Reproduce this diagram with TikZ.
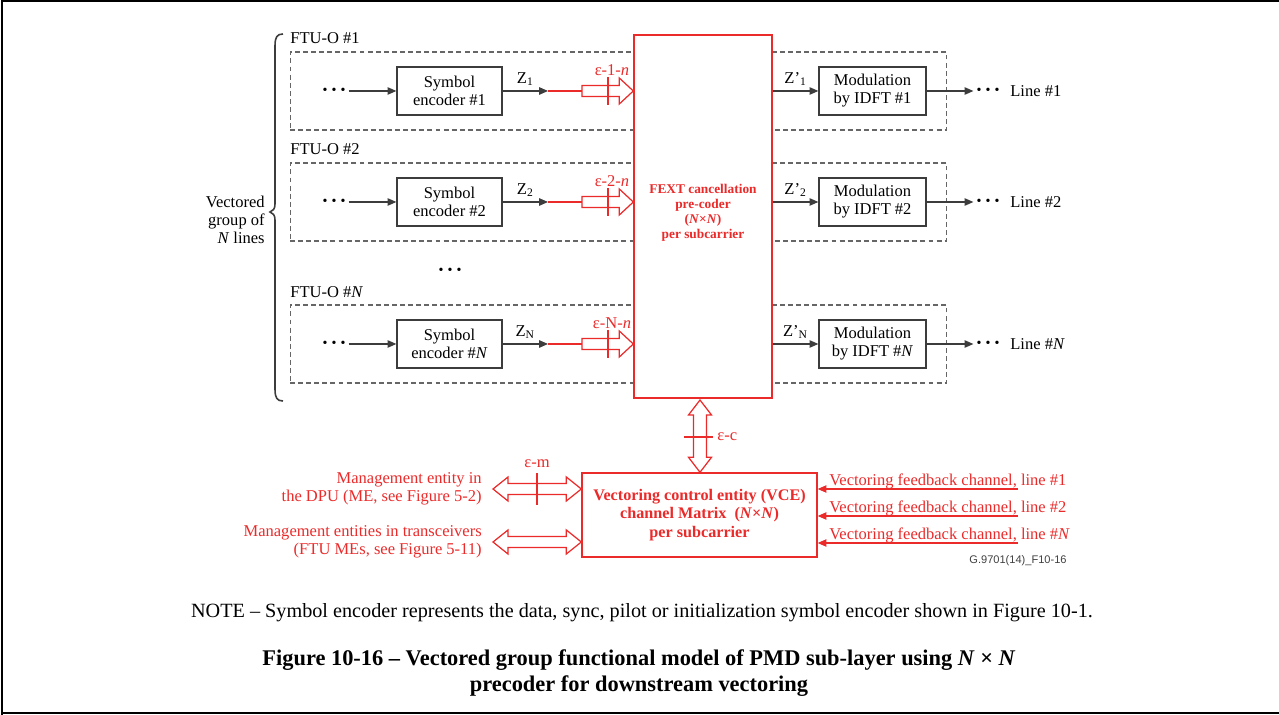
\documentclass[tikz,border=0pt]{standalone}
\usepackage{fontspec}
\setmainfont{Liberation Serif}
\newfontfamily\labelsans{Liberation Sans}
\usetikzlibrary{arrows.meta,calc}
\definecolor{vred}{RGB}{235,42,42}
\definecolor{dgray}{RGB}{60,60,60}
% hollow single arrow: shaft start #1, tip x from #2
\newcommand{\hArrowR}[2]{%
 \path[hollow] let \p1=(#1), \p2=(#2) in
 (\x1,\y1+0.11cm) -- (\x2-0.28cm,\y1+0.11cm) -- (\x2-0.28cm,\y1+0.26cm) -- (\x2,\y1)
 -- (\x2-0.28cm,\y1-0.26cm) -- (\x2-0.28cm,\y1-0.11cm) -- (\x1,\y1-0.11cm) -- cycle;}
% hollow double arrow, horizontal: left tip #1, right tip x from #2
\newcommand{\hArrowLR}[2]{%
 \path[hollow] let \p1=(#1), \p2=(#2) in
 (\x1,\y1) -- (\x1+0.3cm,\y1+0.24cm) -- (\x1+0.3cm,\y1+0.11cm) -- (\x2-0.3cm,\y1+0.11cm)
 -- (\x2-0.3cm,\y1+0.24cm) -- (\x2,\y1) -- (\x2-0.3cm,\y1-0.24cm) -- (\x2-0.3cm,\y1-0.11cm)
 -- (\x1+0.3cm,\y1-0.11cm) -- (\x1+0.3cm,\y1-0.24cm) -- cycle;}
% hollow double arrow, vertical: top tip #1, bottom tip y from #2
\newcommand{\vArrowUD}[2]{%
 \path[hollow] let \p1=(#1), \p2=(#2) in
 (\x1,\y1) -- (\x1+0.23cm,\y1-0.3cm) -- (\x1+0.13cm,\y1-0.3cm) -- (\x1+0.13cm,\y2+0.3cm)
 -- (\x1+0.23cm,\y2+0.3cm) -- (\x1,\y2) -- (\x1-0.23cm,\y2+0.3cm) -- (\x1-0.13cm,\y2+0.3cm)
 -- (\x1-0.13cm,\y1-0.3cm) -- (\x1-0.23cm,\y1-0.3cm) -- cycle;}
\newcommand{\threedots}{\textbullet\hspace{2.3pt}\textbullet\hspace{2.3pt}\textbullet}
\begin{document}
\begin{tikzpicture}[x=0.02cm,y=-0.02cm,
 txt/.style={font=\fontsize{9.4}{10.3}\selectfont, inner sep=0pt},
 rtxt/.style={txt, text=vred},
 blk/.style={draw=dgray, line width=0.7pt, fill=white, align=center,
   font=\fontsize{9.4}{10.3}\selectfont, minimum height=0.96cm, inner sep=1pt},
 ftu/.style={draw=black!60, dash pattern=on 2.8pt off 1.8pt, line width=0.6pt,
   minimum width=13.14cm, minimum height=1.56cm, inner sep=0pt},
 arr/.style={draw=dgray, line width=0.7pt, -{Triangle[length=5pt,width=4.2pt]}},
 rline/.style={draw=vred, line width=0.7pt},
 rarr/.style={draw=vred, line width=0.7pt, -{Triangle[length=5pt,width=4.2pt]}},
 hollow/.style={draw=vred, line width=0.7pt, fill=white, line join=miter},
 dotsn/.style={font=\fontsize{8}{8}\selectfont, inner ysep=0pt, inner xsep=1.6pt},
 rbox/.style={draw=vred, line width=0.8pt, fill=white, align=center, text=vred, inner sep=0pt},
]
\useasboundingbox (0,0) rectangle (1279,715);
% page frame
\draw[line width=1.2pt] (2,715) -- (2,0.5) -- (1279,0.5);
\draw[line width=1.2pt] (2,713) -- (1279,713);

% dashed FTU boxes and their titles
\foreach \r/\y/\lab/\fy in {1/91/1/44, 2/202/2/155, N/344/\textit{N}/298}{
  \node[ftu] (ftu\r) at (618.5,\y) {};
  \node[txt, anchor=base west] (ftl\r) at (290,\fy) {FTU-O \#\lab};
}

% FEXT pre-coder
\node[rbox, minimum width=2.76cm, minimum height=7.26cm,
  label={[text=vred, align=center, inner sep=0pt, yshift=0.07cm,
    font=\bfseries\fontsize{7.6}{8.6}\selectfont]center:{FEXT cancellation\\pre-coder\\(\textit{N}×\textit{N})\\per subcarrier}}]
  (fext) at (703,216.5) {};

% rows
\foreach \r/\y/\lab/\sub in {1/91/1/1, 2/202/2/2, N/344/\textit{N}/N}{
  \node[dotsn] (dl\r) at (334,\y) {\threedots};
  \node[blk, minimum width=2.1cm] (se\r) at (449.5,\y) {Symbol\\encoder \#\lab};
  \coordinate (c\r) at (548,\y);
  \coordinate (h\r) at (582,\y);
  \coordinate (t\r) at (608,\y);
  \draw[arr] (dl\r) -- (se\r);
  \draw[arr] (se\r) -- node[txt, above=2.5pt] {Z\textsubscript{\sub}} (c\r);
  \draw[rline] (c\r) -- (h\r);
  \hArrowR{h\r}{fext.west |- h\r}
  \draw[rline] ($(t\r)+(0,-14)$) -- ($(t\r)+(0,14)$);
  \node[rtxt, anchor=base] at ($(t\r)+(4,-15)$) {ε-\sub-\textit{n}};
  \node[blk, minimum width=2.14cm] (mod\r) at (872.5,\y) {Modulation\\by IDFT \#\lab};
  \draw[arr] (fext.east |- se\r) -- node[txt, above=2.5pt] {Z’\textsubscript{\sub}} (mod\r);
  \node[dotsn] (dr\r) at (988,\y) {\threedots};
  \draw[arr] (mod\r) -- (dr\r);
  \node[txt, anchor=west] (ln\r) at (1010,\y) {Line \#\lab};
}
\node[dotsn] (vdots) at (450,271) {\threedots};

% brace and group label
\draw[line width=0.9pt, dgray]
  (283,34) .. controls (277,34) and (275,37) .. (275,46) -- (275,204)
  .. controls (275,209) and (273,211) .. (270,212)
  .. controls (273,213) and (275,215) .. (275,220) -- (275,389)
  .. controls (275,398) and (277,401) .. (283,401);
\node[txt, anchor=east, align=right] (grp) at (265,220) {Vectored\\group of\\\textit{N} lines};

% VCE
\node[rbox, minimum width=4.7cm, minimum height=1.68cm,
  font=\bfseries\fontsize{9.2}{10.6}\selectfont] (vce) at (699.5,515)
  {Vectoring control entity (VCE)\\channel Matrix~~(\textit{N}×\textit{N})\\per subcarrier};

% epsilon-c
\coordinate (ec) at (700,400);
\vArrowUD{ec}{vce.north}
\coordinate (tc) at (700,437);
\draw[rline] ($(tc)+(-16,0)$) -- ($(tc)+(13,0)$);
\node[rtxt, anchor=west] (eclab) at (717,437) {ε-c};

% management entities
\coordinate (m1) at (493,489);
\coordinate (m2) at (493,542);
\hArrowLR{m1}{vce.west |- m1}
\hArrowLR{m2}{vce.west |- m2}
\coordinate (tm) at (537,489);
\draw[rline] ($(tm)+(0,-16)$) -- ($(tm)+(0,16)$);
\node[rtxt] (emlab) at (537,464) {ε-m};
\node[rtxt, anchor=east, align=right] (me1) at (482,489) {Management entity in\\the DPU (ME, see Figure 5-2)};
\node[rtxt, anchor=east, align=right] (me2) at (482,542) {Management entities in transceivers\\(FTU MEs, see Figure 5-11)};

% feedback channels
\foreach \k/\y/\lab in {1/489/1, 2/516/2, 3/543/\textit{N}}{
  \coordinate (fb\k) at (1018,\y);
  \draw[rarr] (fb\k) -- (vce.east |- fb\k);
  \node[rtxt, anchor=base west] (fbt\k) at (829,\y-3.5) {Vectoring feedback channel, line \#\lab};
}

\node[font=\labelsans\fontsize{6.3}{7}\selectfont, text=black!75, anchor=east, inner sep=0pt] (gid) at (1067,561) {G.9701(14)\_F10-16};

% note and caption
\node[font=\fontsize{11.5}{13}\selectfont, inner sep=0pt] (note) at (642,613)
  {NOTE – Symbol encoder represents the data, sync, pilot or initialization symbol encoder shown in Figure 10-1.};
\node[font=\bfseries\fontsize{12.75}{14.8}\selectfont, align=center, inner sep=0pt] (cap) at (639,673)
  {Figure 10-16 – Vectored group functional model of PMD sub-layer using \textit{N} × \textit{N}\\precoder for downstream vectoring};
\end{tikzpicture}
\end{document}
